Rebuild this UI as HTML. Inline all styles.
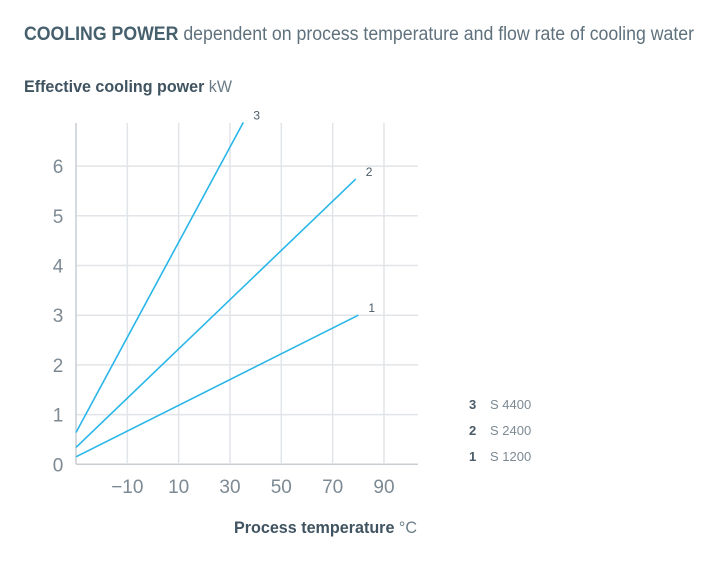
<!DOCTYPE html>
<html><head><meta charset="utf-8"><style>
html,body{margin:0;padding:0;background:#fff;}
svg{display:block;font-family:"Liberation Sans",sans-serif;}
</style></head><body>
<svg id="chart" width="720" height="566" viewBox="0 0 720 566">
<text x="24" y="40" font-size="19" fill="#4a5b67" textLength="670" lengthAdjust="spacingAndGlyphs"><tspan font-weight="bold" fill="#46606e">COOLING POWER</tspan> <tspan fill="#5f717c">dependent on process temperature and flow rate of cooling water</tspan></text>
<text x="24" y="92" font-size="17" fill="#3f5360" textLength="208" lengthAdjust="spacingAndGlyphs"><tspan font-weight="bold">Effective cooling power</tspan> <tspan fill="#6b7c86">kW</tspan></text>
<text x="234" y="533" font-size="17" fill="#3f5360" textLength="183" lengthAdjust="spacingAndGlyphs"><tspan font-weight="bold">Process temperature</tspan> <tspan fill="#6b7c86">°C</tspan></text>
<g id="grid"></g><g id="lines"></g><g id="ticks"></g><g id="legend"></g>
</svg>
<script>
const xTicks=[-10,10,30,50,70,90];
const yTicks=[0,1,2,3,4,5,6];
const seriesIds=["1","2","3"];
const seriesNames=["S 1200","S 2400","S 4400"];
const series1=[[-30,0.15],[80,3.0]];
const series2=[[-30,0.34],[79,5.74]];
const series3=[[-30,0.64],[35.2,6.88]];
const allSeries=[series1,series2,series3];
const NS="http://www.w3.org/2000/svg";
const X0=76,X1=418,Y0=464.3,YTOP=123;
const xs=v=>X0+(v+30)*51.33/20;
const ys=v=>Y0-v*49.7;
function mk(tag,attrs,parent){const e=document.createElementNS(NS,tag);for(const k in attrs)e.setAttribute(k,attrs[k]);parent.appendChild(e);return e;}
const g=document.getElementById("grid"),l=document.getElementById("lines"),t=document.getElementById("ticks"),lg=document.getElementById("legend");
yTicks.forEach(v=>{
 const ln=mk("line",{x1:X0,x2:X1,y1:ys(v),y2:ys(v),stroke:v===0?"#c9ced3":"#e1e4e8","stroke-width":1.5},g);
 
 
 const tx=mk("text",{x:58,y:ys(v)+7,"font-size":19,fill:"#7d8a93","text-anchor":"middle"},t);tx.textContent=v;
 
 
});
const ax=mk("line",{x1:X0,x2:X0,y1:YTOP,y2:Y0,stroke:"#c9ced3","stroke-width":1.5},g);


xTicks.forEach(v=>{
 const ln=mk("line",{x1:xs(v),x2:xs(v),y1:YTOP,y2:Y0,stroke:"#e1e4e8","stroke-width":1.5},g);
 
 
 const tx=mk("text",{x:xs(v),y:493,"font-size":19,fill:"#7d8a93","text-anchor":"middle"},t);tx.textContent=v<0?"−"+Math.abs(v):v;
 
 
});
allSeries.forEach((s,i)=>{
 const p=mk("line",{x1:xs(s[0][0]),y1:ys(s[0][1]),x2:xs(s[1][0]),y2:ys(s[1][1]),stroke:"#29b6e8","stroke-width":1.6},l);
 
 
 const lb=mk("text",{x:xs(s[1][0])+10,y:ys(s[1][1])+i*0-3,"font-size":12,fill:"#4a5b67"},l);lb.textContent=seriesIds[i];
 
 
 const ly=461-i*26;
 const n=mk("text",{x:469,y:ly,"font-size":13,fill:"#4a5b67","font-weight":"bold"},lg);n.textContent=seriesIds[i];
 
 
 const nm=mk("text",{x:490,y:ly,"font-size":13,fill:"#7d8a93"},lg);nm.textContent=seriesNames[i];
 
 
});
</script>
</body></html>
